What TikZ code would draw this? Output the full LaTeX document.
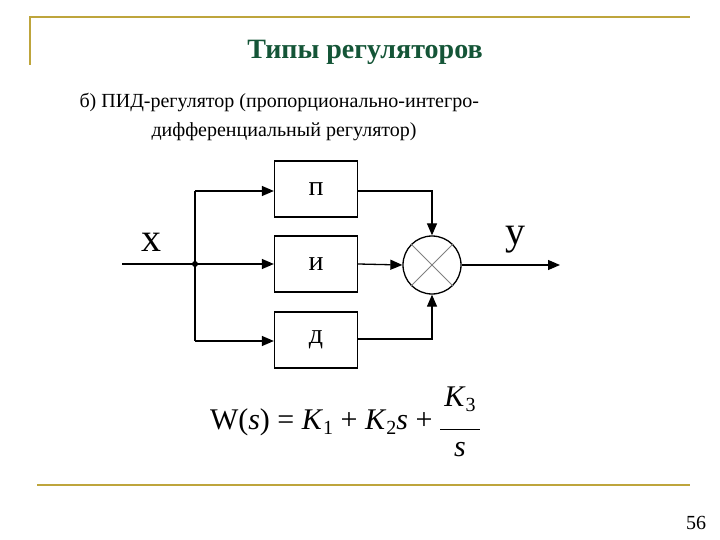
\documentclass[tikz,border=0pt]{standalone}
\usepackage{fontspec}
\setmainfont{Liberation Serif}
\usetikzlibrary{arrows.meta}
\definecolor{gold}{RGB}{190,165,60}
\definecolor{titlegreen}{RGB}{20,85,55}
\tikzset{blk/.style={draw,line width=1.3pt,minimum width=83pt,minimum height=56pt,inner sep=0pt,font=\fontsize{28}{28}\selectfont},
sig/.style={line width=1.3pt,-{Triangle[length=12pt,width=10pt]}},
ln/.style={line width=1.3pt}}
\begin{document}
\begin{tikzpicture}[x=1pt,y=-1pt]
\useasboundingbox (0,0) rectangle (720,540);
\coordinate (tl) at (30,17); \coordinate (tr) at (690,17); \coordinate (tb) at (30,65);
\draw[gold,line width=2pt] (tb) -- (tl) -- (tr);
\coordinate (bl) at (37,485); \coordinate (br) at (690,485);
\draw[gold,line width=2pt] (bl) -- (br);
\node[font=\bfseries\fontsize{28}{28}\selectfont,text=titlegreen] (title) at (365,52) {Типы регуляторов};
\node[anchor=west,font=\fontsize{20}{20}\selectfont] (l1) at (76,103) {б) ПИД-регулятор (пропорционально-интегро-};
\node[anchor=west,font=\fontsize{20}{20}\selectfont] (l2) at (148,132) {дифференциальный регулятор)};
\node[blk] (P) at (316,189) {п};
\node[blk] (I) at (316,264) {и};
\node[blk] (D) at (316,340) {д};
\node[draw,circle,line width=1.3pt,minimum size=58pt,inner sep=0pt] (S) at (432,265) {};
\draw[gray,line width=0.8pt] (S.45) -- (S.225) (S.135) -- (S.315);
\coordinate (in) at (122,264);
\coordinate (j) at (195,264);
\coordinate (jt) at (195,191);
\coordinate (jb) at (195,341);
\coordinate (out) at (560,265);
\fill (j) circle (3pt);
\draw[ln] (in) -- (j);
\draw[ln] (jt) -- (jb);
\draw[sig] (jt) -- (jt -| P.west);
\draw[sig] (j) -- (I.west);
\draw[sig] (jb) -- (jb -| D.west);
\draw[sig] (I.east) -- (S.west);
\draw[sig] (P.east |- jt) -| (S.north);
\draw[sig] (D.east |- 0,339) -| (S.south);
\draw[sig] (S.east) -- (out);
\node[font=\fontsize{40}{40}\selectfont] (x) at (151,242) {х};
\node[font=\fontsize{40}{40}\selectfont] (y) at (515,240) {у};
\node[font=\fontsize{30}{30}\selectfont] (W) at (345,425) {W(\textit{s}) = \textit{K}\raisebox{-5pt}{\fontsize{20}{20}\selectfont 1} + \textit{K}\raisebox{-5pt}{\fontsize{20}{20}\selectfont 2}\textit{s} + \raisebox{-2pt}{\begin{tabular}{@{}c@{}}\textit{K}\raisebox{-5pt}{\fontsize{20}{20}\selectfont 3}\\[-6pt]\rule{40pt}{0.8pt}\\[-4pt]\textit{s}\end{tabular}}};
\node[font=\fontsize{20}{20}\selectfont] (num) at (696,523) {56};
\end{tikzpicture}
\end{document}
